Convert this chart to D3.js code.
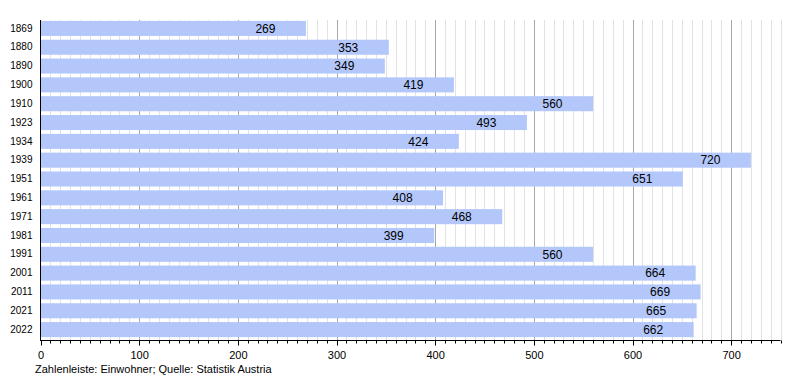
<!DOCTYPE html>
<html><head><meta charset="utf-8">
<script src="https://cdn.jsdelivr.net/npm/d3@7"></script>
<style>body{margin:0;background:#fff}svg{display:block;font-family:"Liberation Sans",Arial,sans-serif}</style>
</head><body><svg id="c" width="800" height="380"></svg>
<script>
const years = ["1869","1880","1890","1900","1910","1923","1934","1939","1951","1961","1971","1981","1991","2001","2011","2021","2022"];
const population = [269,353,349,419,560,493,424,720,651,408,468,399,560,664,669,665,662];
const majorTicks = [0,100,200,300,400,500,600,700];
const footer = "Zahlenleiste: Einwohner; Quelle: Statistik Austria";

const svg = d3.select("#c");
const x = d3.scaleLinear().domain([0,750]).range([40.5,780.5]);
const y = d3.scaleBand().domain(years).range([19,339]).paddingInner(0.2).paddingOuter(0.1);
const minor = d3.range(0,751,10);

// gridlines
svg.append("g").selectAll("line").data(minor.filter(v=>v%100!==0)).join("line")
  .attr("x1",d=>Math.round(x(d))+0.5).attr("x2",d=>Math.round(x(d))+0.5)
  .attr("y1",20).attr("y2",340).attr("stroke","#e2e2e2").attr("stroke-width",1);
svg.append("g").selectAll("line").data(majorTicks.filter(v=>v>0)).join("line")
  .attr("x1",d=>Math.round(x(d))+0.5).attr("x2",d=>Math.round(x(d))+0.5)
  .attr("y1",20).attr("y2",340).attr("stroke","#a8a8a8").attr("stroke-width",1);

// bars
svg.append("g").selectAll("rect").data(years).join("rect")
  .attr("x",x(0)+0.5).attr("y",d=>y(d))
  .attr("width",(d,i)=>x(population[i])-x(0)-0.5).attr("height",y.bandwidth())
  .attr("fill","#b3c7fb");

// value labels
svg.append("g").selectAll("text").data(years).join("text")
  .attr("x",(d,i)=>x(population[i])-40.5).attr("y",d=>y(d)+y.bandwidth()/2)
  .attr("dy","0.36em").attr("text-anchor","middle").attr("font-size",12).attr("fill","#000")
  .text((d,i)=>population[i]);

// y axis
const ya = svg.append("g").attr("transform","translate(40.5,0)")
  .call(d3.axisLeft(y).tickSize(0).tickPadding(8));
ya.select(".domain").attr("d","M0,20V341").attr("stroke","#000");
ya.selectAll("text").attr("font-size",10).attr("font-family","Liberation Sans, Arial, sans-serif").attr("fill","#000");

// x axis minor ticks
const xa = svg.append("g").attr("transform","translate(0,340.5)");
xa.append("path").attr("d",`M${x(0)},0H${x(750)}`).attr("stroke","#000");
xa.selectAll("line.mi").data(minor).join("line").attr("class","mi")
  .attr("x1",d=>Math.round(x(d))+0.5).attr("x2",d=>Math.round(x(d))+0.5)
  .attr("y1",0).attr("y2",d=>d%100===0?5:3).attr("stroke","#000");
const xAxis = d3.axisBottom(x).tickValues(majorTicks).tickSize(0).tickPadding(11);
const xg = svg.append("g").attr("transform","translate(0,340.5)").call(xAxis);
xg.select(".domain").remove();
xg.selectAll("text").attr("font-size",11).attr("font-family","Liberation Sans, Arial, sans-serif").attr("fill","#000");

svg.append("text").attr("x",35).attr("y",373).attr("font-size",11).attr("fill","#000").text(footer);
</script></body></html>
